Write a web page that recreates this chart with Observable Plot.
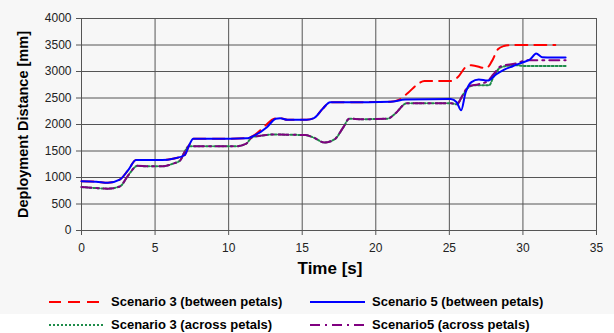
<!DOCTYPE html>
<html><head><meta charset="utf-8">
<script src="https://cdn.jsdelivr.net/npm/d3@7"></script>
<script src="https://cdn.jsdelivr.net/npm/@observablehq/plot@0.6"></script>
<style>
body{margin:0;background:#fff;font-family:"Liberation Sans",Arial,sans-serif}
#wrap{position:relative;width:614px;height:333px;background:#fff;overflow:hidden}
#bg{position:absolute;left:0;top:0;width:614px;height:314px;background:#f7f7f7}
#chart{position:absolute;left:0;top:0}
.item{position:absolute;font-weight:bold;font-size:13px;color:#000;white-space:nowrap;line-height:14px}
.item svg{position:absolute;left:0;top:0}
.item span{position:absolute;top:0}
</style></head><body>
<div id="wrap"><div id="bg"></div><div id="chart"></div><div id="legend"></div></div>
<script>
// Scenario 5 (between petals)
const tS5B = [0, 1, 1.8, 2.6, 3.2, 3.7, 4.2, 5.5, 6.3, 7.0, 7.3, 7.6, 9, 11.2, 11.8, 12.6, 13.2, 13.5, 14, 15.3, 15.8, 16.4, 16.9, 18, 21, 22, 25.1, 25.5, 25.8, 26.1, 26.5, 27.0, 27.6, 28.2, 28.7, 29.3, 30.0, 30.5, 30.9, 31.3, 32, 32.9];
const vS5B = [930, 920, 900, 960, 1150, 1330, 1330, 1330, 1360, 1420, 1600, 1730, 1730, 1740, 1800, 1950, 2110, 2120, 2090, 2090, 2120, 2300, 2420, 2420, 2430, 2470, 2480, 2420, 2270, 2600, 2800, 2850, 2830, 2950, 3030, 3100, 3175, 3230, 3340, 3270, 3265, 3265];
// Scenario 3 (between petals)
const tS3B = [0, 1, 1.8, 2.6, 3.2, 3.7, 4.2, 5.5, 6.3, 7.0, 7.3, 7.6, 9, 11.2, 11.8, 12.5, 13.1, 13.5, 14, 15.3, 15.8, 16.4, 16.9, 18, 21, 21.6, 22.2, 22.8, 23.3, 25.1, 25.6, 26.1, 26.5, 27.5, 27.9, 28.3, 28.7, 29.2, 32.2];
const vS3B = [930, 920, 900, 960, 1150, 1330, 1330, 1330, 1360, 1420, 1600, 1730, 1730, 1740, 1810, 1980, 2110, 2120, 2090, 2090, 2120, 2300, 2420, 2420, 2430, 2470, 2600, 2750, 2820, 2820, 2900, 3080, 3120, 3060, 3200, 3420, 3480, 3500, 3500];
// Scenario 3 (across petals)
const tS3A = [0, 1, 1.8, 2.6, 3.2, 3.8, 4.5, 5.5, 6.2, 6.7, 7.0, 7.3, 8, 10.5, 11.2, 11.6, 12.2, 13, 15.2, 15.8, 16.5, 17.2, 17.8, 18.2, 19, 20.8, 21.3, 22.1, 25.1, 25.5, 25.9, 26.3, 26.7, 27.7, 28.0, 28.5, 29.5, 30.0, 32.9];
const vS3A = [820, 800, 790, 830, 1050, 1220, 1210, 1210, 1260, 1320, 1480, 1590, 1590, 1590, 1640, 1760, 1790, 1810, 1800, 1750, 1660, 1720, 1950, 2110, 2100, 2110, 2200, 2400, 2400, 2380, 2550, 2700, 2740, 2740, 2900, 3080, 3120, 3106, 3106];
// Scenario5 (across petals)
const tS5A = [0, 1, 1.8, 2.6, 3.2, 3.8, 4.5, 5.5, 6.2, 6.7, 7.0, 7.3, 8, 10.5, 11.2, 11.6, 12.2, 13, 15.2, 15.8, 16.5, 17.2, 17.8, 18.2, 19, 20.8, 21.3, 22.1, 25.1, 25.5, 25.9, 26.3, 27.0, 27.6, 28.0, 28.5, 29.5, 30.3, 32.9];
const vS5A = [820, 800, 790, 830, 1050, 1220, 1210, 1210, 1260, 1320, 1480, 1590, 1590, 1590, 1640, 1760, 1790, 1810, 1800, 1750, 1660, 1720, 1950, 2110, 2100, 2110, 2200, 2400, 2400, 2380, 2550, 2720, 2760, 2820, 2950, 3100, 3150, 3210, 3210];

const xTicks = [0, 5, 10, 15, 20, 25, 30, 35];
const yTicks = [0, 500, 1000, 1500, 2000, 2500, 3000, 3500, 4000];

const seriesNames = ["Scenario 3 (between petals)", "Scenario 5 (between petals)", "Scenario 3 (across petals)", "Scenario5 (across petals)"];
const toRows = (t, v) => t.map((x, i) => ({t: x, v: v[i]}));

const styles = {
  s3b: {stroke: "#ff0000", strokeWidth: 2, strokeDasharray: "12,7"},
  s5b: {stroke: "#0000ff", strokeWidth: 2},
  s3a: {stroke: "#1e8c4a", strokeWidth: 2, strokeDasharray: "2,2"},
  s5a: {stroke: "#800080", strokeWidth: 2, strokeDasharray: "10,5,2,5"}
};

const plot = Plot.plot({
  width: 614, height: 290,
  marginTop: 18, marginLeft: 81, marginRight: 18, marginBottom: 60,
  style: {background: "transparent", fontFamily: "'Liberation Sans', Arial, sans-serif", fontSize: "12px", color: "#000", overflow: "visible"},
  x: {domain: [0, 35], label: null},
  y: {domain: [0, 4000], label: null},
  marks: [
    Plot.gridX(xTicks, {stroke: "#555", strokeOpacity: 1}),
    Plot.gridY(yTicks, {stroke: "#555", strokeOpacity: 1}),
    Plot.axisX(xTicks, {tickSize: 5, tickPadding: 8, label: null, stroke: "#555", fill: "#222", fontSize: 12}),
    Plot.axisY(yTicks, {tickSize: 5, tickPadding: 5, label: null, stroke: "#555", fill: "#222", fontSize: 12, tickFormat: d3.format("d")}),
    Plot.line(toRows(tS3A, vS3A), {x: "t", y: "v", curve: "monotone-x", ...styles.s3a}),
    Plot.line(toRows(tS5A, vS5A), {x: "t", y: "v", curve: "monotone-x", ...styles.s5a}),
    Plot.line(toRows(tS3B, vS3B), {x: "t", y: "v", curve: "monotone-x", ...styles.s3b}),
    Plot.line(toRows(tS5B, vS5B), {x: "t", y: "v", curve: "monotone-x", ...styles.s5b}),
    Plot.text(["Time [s]"], {frameAnchor: "bottom", dx: -9, dy: 43, fontWeight: "bold", fontSize: 17, textAnchor: "middle"}),
    Plot.text(["Deployment Distance [mm]"], {frameAnchor: "left", dx: -58, rotate: -90, fontWeight: "bold", fontSize: 14.5, textAnchor: "middle"})
  ]
});
document.getElementById("chart").appendChild(plot);

const legendPos = [[49, 295], [310, 295], [49, 318], [310, 318]];
const legendStyles = [styles.s3b, styles.s5b, styles.s3a, styles.s5a];
const legend = document.getElementById("legend");
seriesNames.forEach((name, i) => {
  const st = legendStyles[i];
  const d = document.createElement("div");
  d.className = "item";
  d.style.left = legendPos[i][0] + "px";
  d.style.top = legendPos[i][1] + "px";
  d.innerHTML = `<svg width="56" height="14"><line x1="0" x2="55" y1="7" y2="7" stroke="${st.stroke}" stroke-width="2" ${st.strokeDasharray ? `stroke-dasharray="${st.strokeDasharray}"` : ""}/></svg><span style="left:62px">${name}</span>`;
  legend.appendChild(d);
});
</script>
</body></html>
